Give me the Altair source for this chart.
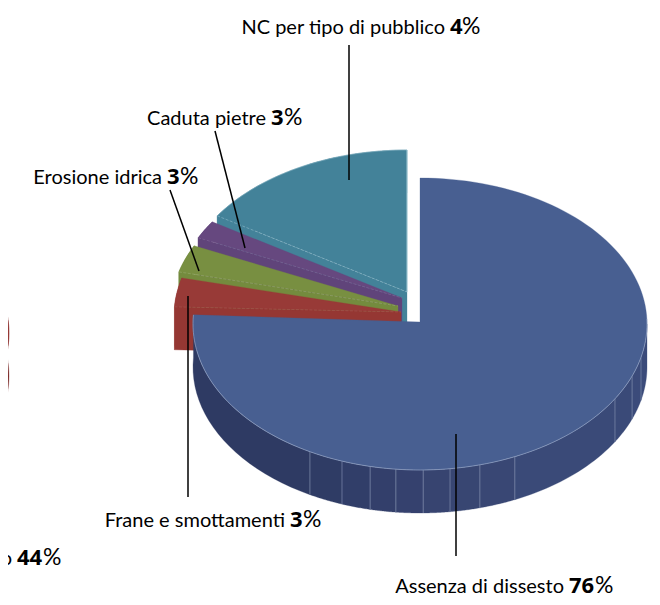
import numpy as np
import pandas as pd
import altair as alt

# values
categories = ["Assenza di dissesto", "Frane e smottamenti", "Erosione idrica", "Caduta pietre", "NC per tipo di pubblico"]
printed_pct = ["76", "3", "3", "3", "4"]
drawn_share = [76.0, 3.2, 3.05, 2.0, 15.75]
top_colors = ["#485f91", "#983a37", "#788f41", "#66487f", "#438299"]
wall_colors = ["#3a4a78", "#953733", "#748b3e", "#60447a", "#438299"]
edge_colors = ["#93a3c4", "#a8605a", "#a3b37c", "#8a72a0", "#a5cbd7"]
slice_cx = [420, 401, 398, 402, 407]
slice_cy = [324, 316, 310, 302, 296]
wall_break_deg = [90, 103.2, 110.9, 120.8, 155.3, 164.7, 172.4, 179.2, 186.1, 192.7, 200.1, 209, 273.6]
wall_seg_colors = ["#3b4b7a", "#3b4b7a", "#3a4a78", "#3a4a78", "#394774", "#384672", "#374470",
                   "#35416e", "#333f6b", "#313e69", "#2f3c65", "#2e3a63"]
wall_line_color = "#7f8cae"
RX, RY, DEPTH, TIP = 227, 146, 43, 4

X = alt.Scale(domain=[8, 652], range=[0, 644])
Y = alt.Scale(domain=[8, 600], range=[0, 592])


def arc(cx, cy, a0, a1, n=40, dy=0):
    t = np.radians(np.linspace(a0, a1, n))
    return list(zip(cx + RX * np.sin(t), cy - RY * np.cos(t) + dy))


def base(pts):
    df = pd.DataFrame(pts, columns=["x", "y"])
    df["i"] = range(len(df))
    return alt.Chart(df).encode(
        x=alt.X("x:Q", scale=X, axis=None),
        y=alt.Y("y:Q", scale=Y, axis=None),
        order=alt.Order("i:Q"),
    )


def poly(pts, fill):
    pts = list(pts) + [pts[0]]
    return base(pts).mark_line(fill=fill, stroke=fill, strokeWidth=0.3, interpolate="linear")


def line(pts, color, width=0.7, dash=None, opacity=1):
    kw = {"strokeDash": dash} if dash else {}
    return base(pts).mark_line(stroke=color, strokeWidth=width, interpolate="linear", opacity=opacity, **kw)


layers = []

# second pie, cut off by the left edge
lc, lcy = -218, 333
la = arc(lc, lcy, 0, 158.4, 80)
layers.append(poly(arc(lc, lcy, 60, 158.4, 60) + arc(lc, lcy, 158.4, 60, 60, DEPTH), "#7f2e2c"))
layers.append(poly(la + [(lc, lcy - TIP)], "#983a37"))

ends = np.cumsum(drawn_share) * 3.6
starts = np.concatenate([[0], ends[:-1]])

# back slices, from the upper one to the lower one
for k in [4, 3, 2, 1]:
    cx, cy = slice_cx[k], slice_cy[k]
    a0, a1 = starts[k], ends[k]
    top = arc(cx, cy, a0, a1)
    tip = (cx, cy - TIP)
    layers.append(poly(top + arc(cx, cy, a1, a0, 40, DEPTH), wall_colors[k]))
    p = top[0]
    layers.append(poly([p, tip, (tip[0], tip[1] + DEPTH), (p[0], p[1] + DEPTH)], wall_colors[k]))
    layers.append(poly(top + [tip], top_colors[k]))
    layers.append(line([p, tip], edge_colors[k], 0.6, [3, 1.5], 0.8))
    if k == 4:
        layers.append(line(top, edge_colors[k], 0.6, None, 0.7))
        layers.append(line([tip, top[-1]], edge_colors[k], 1))

# main slice
cx, cy = slice_cx[0], slice_cy[0]
for a0, a1, c in zip(wall_break_deg[:-1], wall_break_deg[1:], wall_seg_colors):
    layers.append(poly(arc(cx, cy, a0, a1, 24) + arc(cx, cy, a1, a0, 24, DEPTH), c))
for a in wall_break_deg[1:-1]:
    layers.append(line([arc(cx, cy, a, a, 1)[0], arc(cx, cy, a, a, 1, DEPTH)[0]], wall_line_color, 0.7))
mt = arc(cx, cy, 0, drawn_share[0] * 3.6, 140)
layers.append(poly(mt + [(cx, cy - 2)], top_colors[0]))
layers.append(line(arc(cx, cy, 88, drawn_share[0] * 3.6, 110), edge_colors[0], 0.7))

# leader lines
leaders = pd.DataFrame(
    [
        (349, 45, 349, 180),
        (215, 131, 245, 248),
        (170, 190, 199, 271),
        (188, 296, 188, 497),
        (456, 434, 456, 556),
    ],
    columns=["x", "y", "x2", "y2"],
)
layers.append(
    alt.Chart(leaders)
    .mark_rule(color="black", strokeWidth=1.5)
    .encode(
        x=alt.X("x:Q", scale=X, axis=None),
        y=alt.Y("y:Q", scale=Y, axis=None),
        x2="x2:Q",
        y2="y2:Q",
    )
)

# labels: name, bold number, percent sign
label_names = [categories[4], categories[3], categories[2], categories[1], categories[0], "o"]
label_pcts = [printed_pct[4], printed_pct[3], printed_pct[2], printed_pct[1], printed_pct[0], "44"]
label_anchor = [(450, 34), (271, 125), (167, 184), (290, 527), (569, 593), (17, 565)]
pct_gap = [12, 13, 13, 13, 26, 26]

rows = pd.DataFrame(
    {
        "name": label_names,
        "pct": label_pcts,
        "sign": ["%"] * 6,
        "x": [a[0] for a in label_anchor],
        "y": [a[1] for a in label_anchor],
        "gap": pct_gap,
    }
)
rows["xn"] = rows["x"] - 5
rows["xs"] = rows["x"] + rows["gap"]


def txt(field, xf, align, weight, font, size):
    return (
        alt.Chart(rows)
        .mark_text(font=font, fontSize=size, fontWeight=weight, align=align, baseline="alphabetic", color="black")
        .encode(
            x=alt.X(f"{xf}:Q", scale=X, axis=None),
            y=alt.Y("y:Q", scale=Y, axis=None),
            text=f"{field}:N",
        )
    )


layers += [
    txt("name", "xn", "right", 400, "Lato", 20),
    txt("pct", "x", "left", 700, "Open Sans", 22),
    txt("sign", "xs", "left", 400, "Lato", 23),
]

chart = (
    alt.layer(*layers)
    .properties(width=644, height=592, padding=0, autosize=alt.AutoSizeParams(type="none"), background="white")
    .configure_view(stroke=None)
)
chart.save("out.html", embed_options={"renderer": "svg", "actions": False})
